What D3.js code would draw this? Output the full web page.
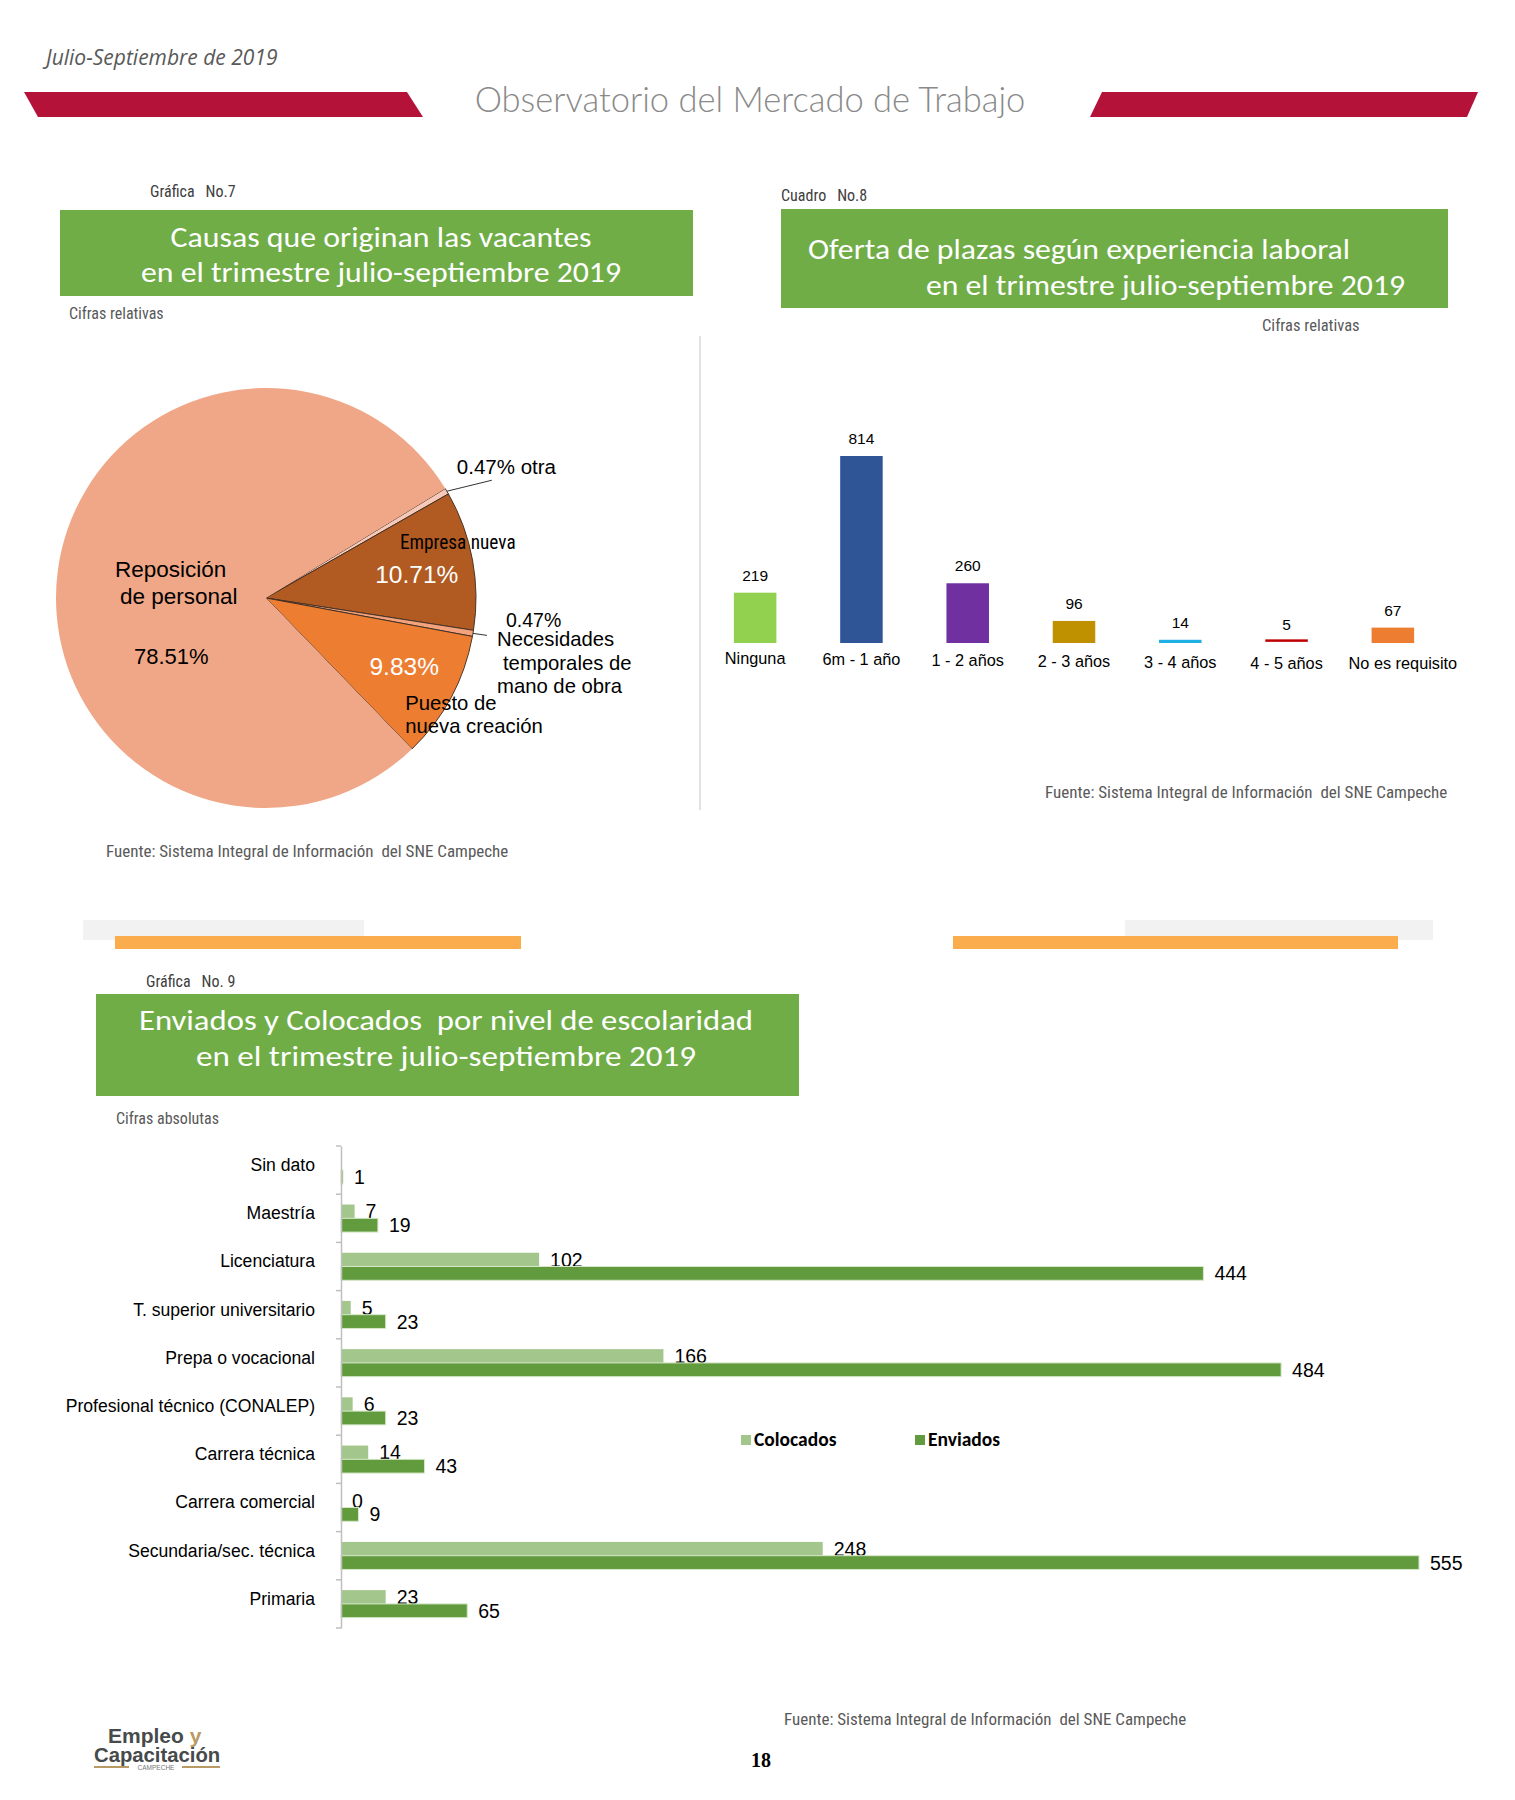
<!DOCTYPE html>
<html>
<head>
<meta charset="utf-8">
<script src="https://cdn.jsdelivr.net/npm/d3@7"></script>
<style>
  body { margin: 0; background: #fff; }
  svg { display: block; }
</style>
</head>
<body>
<div id="page"></div>
<script>
// Gráfica 7: causas de vacantes (%)
var causeLabels = ['otra', 'Empresa nueva', 'Necesidades temporales de mano de obra', 'Puesto de nueva creación', 'Reposición de personal'];
var causeValues = [0.47, 10.71, 0.47, 9.83, 78.51];
var causeColors = ['#f6c9b8', '#b15b22', '#f3a27c', '#ed7d31', '#f0a787'];

// Cuadro 8: experiencia laboral
var expCategories = ['Ninguna', '6m - 1 año', '1 - 2 años', '2 - 3 años', '3 - 4 años', '4 - 5 años', 'No es requisito'];
var expValues = [219, 814, 260, 96, 14, 5, 67];
var expColors = ['#92d050', '#2f5597', '#7030a0', '#bf9000', '#1fb0e6', '#c00000', '#ed7d31'];

// Gráfica 9: enviados y colocados por escolaridad
var eduCategories = ['Sin dato', 'Maestría', 'Licenciatura', 'T. superior universitario', 'Prepa o vocacional',
    'Profesional técnico (CONALEP)', 'Carrera técnica', 'Carrera comercial', 'Secundaria/sec. técnica', 'Primaria'];
var colocados = [null, 7, 102, 5, 166, 6, 14, 0, 248, 23];
var enviados = [1, 19, 444, 23, 484, 23, 43, 9, 555, 65];
var seriesNames = ['Colocados', 'Enviados'];

var width = 1515;
var height = 1800;
var arial = '"Liberation Sans", Arial, sans-serif';
var narrow = '"Liberation Sans Narrow", "Arial Narrow", "Roboto Condensed", sans-serif';
var calibri = 'Carlito, Calibri, Lato, sans-serif';
var green = '#70ad47';
var fuente = 'Fuente: Sistema Integral de Información  del SNE Campeche';

var svg = d3.select('#page')
    .append('svg')
    .attr('width', width)
    .attr('height', height)
    .style('background', '#fff');

function txt(g, x, y, s, size, opts) {
    opts = opts || {};
    return g.append('text')
        .attr('x', x)
        .attr('y', y)
        .text(s)
        .style('font-family', opts.family || arial)
        .style('font-size', size + 'px')
        .style('font-weight', opts.weight || 'normal')
        .style('font-style', opts.style || 'normal')
        .style('fill', opts.fill || '#000')
        .attr('text-anchor', opts.anchor || 'start')
        .attr('xml:space', 'preserve');
}

// white title line inside a green box, stretched to the width it has in the original
function titleLine(g, x, y, s, len, anchor) {
    return txt(g, x, y, s, 28, {family: calibri, fill: '#fff', anchor: anchor || 'middle'})
        .attr('textLength', len)
        .attr('lengthAdjust', 'spacingAndGlyphs');
}

// ---------- header ----------
txt(svg, 46, 65, 'Julio-Septiembre de 2019', 21, {family: '"Open Sans", Lato, sans-serif', style: 'italic', fill: '#595959'});
svg.append('polygon').attr('points', '24,92 407,92 423,117 38,117').style('fill', '#b5123a');
svg.append('polygon').attr('points', '1102,92 1478,92 1467,117 1090,117').style('fill', '#b5123a');
txt(svg, 750, 112, 'Observatorio del Mercado de Trabajo', 34.5, {family: 'Lato, sans-serif', fill: '#8a8a8a', anchor: 'middle'})
    .style('font-weight', 300);

// ---------- Gráfica 7 (pie) ----------
var left = svg.append('g');
txt(left, 150, 197, 'Gráfica   No.7', 16, {family: narrow, fill: '#404040'});
left.append('rect').attr('x', 60).attr('y', 210).attr('width', 633).attr('height', 86).style('fill', green);
titleLine(left, 381, 247, 'Causas que originan las vacantes', 421);
titleLine(left, 381, 282, 'en el trimestre julio-septiembre 2019', 480);
txt(left, 69, 319, 'Cifras relativas', 16, {family: narrow, fill: '#595959'});
left.append('line').attr('x1', 700).attr('x2', 700).attr('y1', 336).attr('y2', 810)
    .style('stroke', '#d9d9d9').style('stroke-width', 1.5);

var cx = 266, cy = 598, r = 210;
var a0 = 58.6 * Math.PI / 180;
var pie = d3.pie().sort(null).startAngle(a0).endAngle(a0 + 2 * Math.PI);
var arcs = pie(causeValues);
var arc = d3.arc().innerRadius(0).outerRadius(r);
var pieG = left.append('g').attr('transform', `translate(${cx},${cy})`);

pieG.selectAll('path')
    .data(arcs)
    .enter()
    .append('path')
    .attr('d', arc)
    .style('fill', (d, i) => causeColors[i])
    .style('stroke', (d, i) => i === 4 ? 'none' : '#3a2a20')
    .style('stroke-width', 0.9);

function onRim(a, rr) {
    return [rr * Math.sin(a), -rr * Math.cos(a)];
}
function mid(d) { return (d.startAngle + d.endAngle) / 2; }

// percent labels inside slices
var pEmp = onRim(mid(arcs[1]), 0.73 * r);
txt(pieG, pEmp[0], pEmp[1] + 13, '10.71%', 24.5, {fill: '#fff', anchor: 'middle'});
txt(pieG, pEmp[0] + 41, pEmp[1] - 21, 'Empresa nueva', 19.3, {family: narrow, anchor: 'middle'});
var pPue = onRim(mid(arcs[3]), 0.72 * r);
txt(pieG, pPue[0] + 5, pPue[1] + 5, '9.83%', 24.5, {fill: '#fff', anchor: 'middle'});
txt(pieG, pPue[0] + 6, pPue[1] + 40, 'Puesto de', 20.3, {});
txt(pieG, pPue[0] + 6, pPue[1] + 63, 'nueva creación', 20.3, {});

// Reposición label
txt(pieG, -151, -21, 'Reposición', 22.5, {});
txt(pieG, -146, 6, 'de personal', 22.5, {});
txt(pieG, -132, 66, '78.51%', 22, {});

// otra with leader
var pO = onRim(mid(arcs[0]), r);
pieG.append('line').attr('x1', pO[0]).attr('y1', pO[1]).attr('x2', pO[0] + 45).attr('y2', pO[1] - 11)
    .style('stroke', '#333').style('stroke-width', 1);
txt(pieG, pO[0] + 10, pO[1] - 17, '0.47% otra', 20.5, {});

// necesidades with leader
var pN = onRim(mid(arcs[2]), r);
pieG.append('line').attr('x1', pN[0]).attr('y1', pN[1]).attr('x2', pN[0] + 14).attr('y2', pN[1] + 2)
    .style('stroke', '#333').style('stroke-width', 1);
txt(pieG, pN[0] + 33, pN[1] - 6, '0.47%', 19.5, {});
txt(pieG, pN[0] + 24, pN[1] + 13, 'Necesidades', 20.3, {});
txt(pieG, pN[0] + 30, pN[1] + 37, 'temporales de', 20.3, {});
txt(pieG, pN[0] + 24, pN[1] + 60, 'mano de obra', 20.3, {});

txt(left, 106, 857, fuente, 17, {family: narrow, fill: '#595959'});

// ---------- Cuadro 8 (bars) ----------
var right = svg.append('g');
txt(right, 781, 201, 'Cuadro   No.8', 16, {family: narrow, fill: '#404040'});
right.append('rect').attr('x', 781).attr('y', 209).attr('width', 667).attr('height', 99).style('fill', green);
titleLine(right, 808, 259, 'Oferta de plazas según experiencia laboral', 542, 'start');
titleLine(right, 1405, 295, 'en el trimestre julio-septiembre 2019', 479, 'end');
txt(right, 1262, 331, 'Cifras relativas', 16.5, {family: narrow, fill: '#595959'});

var xExp = d3.scaleBand().domain(expCategories).range([702, 1446]).paddingInner(0.6).paddingOuter(0.3);
var yExp = d3.scaleLinear().domain([0, 814]).range([643, 456]);

var expG = right.append('g');
var bars = expG.selectAll('g').data(expValues).enter().append('g');
bars.append('rect')
    .attr('x', (d, i) => xExp(expCategories[i]))
    .attr('y', d => yExp(d))
    .attr('width', xExp.bandwidth())
    .attr('height', d => Math.max(2.5, yExp(0) - yExp(d)))
    .attr('transform', d => yExp(0) - yExp(d) < 2.5 ? 'translate(0,-2.5)' : null)
    .style('fill', (d, i) => expColors[i]);
bars.append('text')
    .text(d => d)
    .attr('x', (d, i) => xExp(expCategories[i]) + xExp.bandwidth() / 2)
    .attr('y', d => yExp(d) - 12)
    .attr('text-anchor', 'middle')
    .style('font-family', arial)
    .style('font-size', '15.5px');
bars.append('text')
    .text((d, i) => expCategories[i])
    .attr('x', (d, i) => xExp(expCategories[i]) + xExp.bandwidth() / 2 + (i === 6 ? 10 : 0))
    .attr('y', (d, i) => 664 + i * 0.9)
    .attr('text-anchor', 'middle')
    .style('font-family', arial)
    .style('font-size', '16.3px');

txt(right, 1045, 798, fuente, 17, {family: narrow, fill: '#595959'});

// ---------- separators ----------
svg.append('rect').attr('x', 83).attr('y', 920).attr('width', 281).attr('height', 20).style('fill', '#f2f2f2');
svg.append('rect').attr('x', 115).attr('y', 936).attr('width', 406).attr('height', 13).style('fill', '#fbac4c');
svg.append('rect').attr('x', 1125).attr('y', 920).attr('width', 308).attr('height', 20).style('fill', '#f2f2f2');
svg.append('rect').attr('x', 953).attr('y', 936).attr('width', 445).attr('height', 13).style('fill', '#fbac4c');

// ---------- Gráfica 9 (horizontal bars) ----------
var bottom = svg.append('g');
txt(bottom, 146, 987, 'Gráfica   No. 9', 16, {family: narrow, fill: '#404040'});
bottom.append('rect').attr('x', 96).attr('y', 994).attr('width', 703).attr('height', 102).style('fill', green);
titleLine(bottom, 446, 1030, 'Enviados y Colocados  por nivel de escolaridad', 614);
titleLine(bottom, 446, 1066, 'en el trimestre julio-septiembre 2019', 500);
txt(bottom, 116, 1124, 'Cifras absolutas', 16, {family: narrow, fill: '#595959'});

var yEdu = d3.scaleBand().domain(eduCategories).range([1146, 1628]);
var ySub = d3.scaleBand().domain(seriesNames).range([0, yEdu.bandwidth()]).paddingOuter(0.75);
var xEdu = d3.scaleLinear().domain([0, 555]).range([341, 1419]);
var subColors = ['#a3c68c', '#619b3e'];

var eduG = bottom.append('g');
var rows = eduG.selectAll('g.row')
    .data(eduCategories)
    .enter()
    .append('g')
    .attr('class', 'row')
    .attr('transform', d => `translate(0,${yEdu(d)})`);

[colocados, enviados].forEach((vals, s) => {
    rows.filter((d, i) => vals[i] !== null)
        .append('rect')
        .attr('x', xEdu(0))
        .attr('y', ySub(seriesNames[s]))
        .attr('width', d => xEdu(vals[eduCategories.indexOf(d)]) - xEdu(0))
        .attr('height', ySub.bandwidth())
        .style('fill', subColors[s])
        .style('stroke', s === 1 ? '#d6e8c8' : 'none')
        .style('stroke-width', s === 1 ? 1 : 0);
    rows.filter((d, i) => vals[i] !== null)
        .append('text')
        .text(d => vals[eduCategories.indexOf(d)])
        .attr('x', d => xEdu(vals[eduCategories.indexOf(d)]) + 11)
        .attr('y', ySub(seriesNames[s]) + ySub.bandwidth() / 2 + 7)
        .style('font-family', arial)
        .style('font-size', '19.5px');
});

var axis = bottom.append('g')
    .attr('transform', `translate(${xEdu(0)},0)`)
    .call(d3.axisLeft(yEdu).tickSize(0).tickPadding(26));
axis.select('.domain').style('stroke', '#bfbfbf').style('stroke-width', 1.5);
axis.selectAll('.tick text')
    .style('font-family', arial)
    .style('font-size', '17.6px')
    .attr('dy', '0.05em');
axis.selectAll('line.bound')
    .data(d3.range(eduCategories.length + 1))
    .enter()
    .append('line')
    .attr('class', 'bound')
    .attr('x1', -5).attr('x2', 0)
    .attr('y1', i => yEdu.range()[0] + i * yEdu.step())
    .attr('y2', i => yEdu.range()[0] + i * yEdu.step())
    .style('stroke', '#bfbfbf').style('stroke-width', 1.5);

// legend
var legend = bottom.append('g').attr('transform', 'translate(741,1435)');
seriesNames.forEach((name, i) => {
    var lg = legend.append('g').attr('transform', `translate(${i * 174},0)`);
    lg.append('rect').attr('width', 10).attr('height', 10).style('fill', subColors[i]);
    txt(lg, 13, 11, name, 19.5, {family: calibri, weight: 'bold'});
});

txt(bottom, 784, 1725, fuente, 17, {family: narrow, fill: '#595959'});

// ---------- footer ----------
txt(svg, 761, 1767, '18', 20, {family: '"Liberation Serif", "Times New Roman", serif', weight: 'bold', anchor: 'middle'});
var logo = svg.append('g');
logo.append('line').attr('x1', 94).attr('x2', 129).attr('y1', 1767).attr('y2', 1767).style('stroke', '#b99a64').style('stroke-width', 2);
logo.append('line').attr('x1', 182).attr('x2', 220).attr('y1', 1767).attr('y2', 1767).style('stroke', '#b99a64').style('stroke-width', 2);
var lt = logo.append('text')
    .style('font-family', arial)
    .style('font-weight', 'bold')
    .style('fill', '#474a4b')
    .attr('xml:space', 'preserve');
lt.append('tspan').attr('x', 108).attr('y', 1743).style('font-size', '21px').text('Empleo ');
lt.append('tspan').style('font-size', '21px').style('fill', '#b99a64').text('y');
lt.append('tspan').attr('x', 94).attr('y', 1762).style('font-size', '20.3px').text('Capacitación');
lt.append('tspan').attr('x', 156).attr('y', 1770).attr('text-anchor', 'middle')
    .style('font-size', '6.5px').style('font-weight', 'normal').style('fill', '#777').text('CAMPECHE');
</script>
</body>
</html>
